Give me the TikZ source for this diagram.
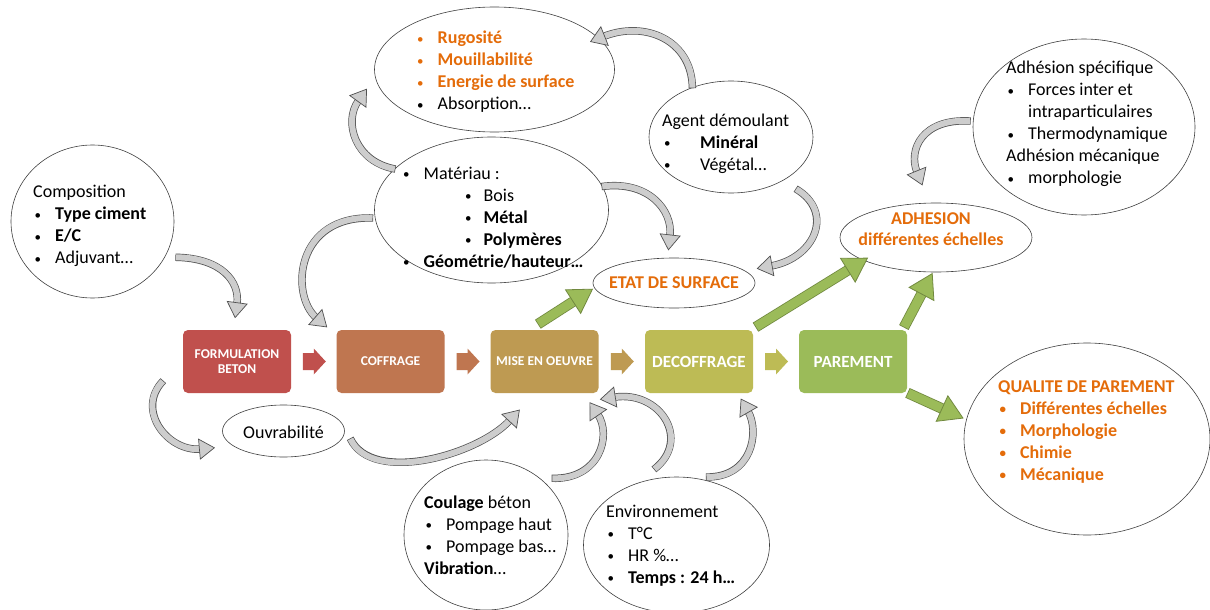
\documentclass[tikz,border=0pt]{standalone}
\usepackage{fontspec}
\setmainfont{Carlito}
\usetikzlibrary{calc,shapes.geometric,decorations.markings}
\definecolor{cA}{HTML}{C0504D}
\definecolor{cB}{HTML}{BF7650}
\definecolor{cC}{HTML}{BE9A52}
\definecolor{cD}{HTML}{BDBB55}
\definecolor{cE}{HTML}{9BBB59}
\definecolor{orng}{HTML}{E46C0A}
\definecolor{gfill}{HTML}{CDCDCD}
\definecolor{gline}{HTML}{505050}
\definecolor{grfill}{HTML}{9BBB59}
\definecolor{grline}{HTML}{71893F}
\newcommand\bdot{\raisebox{0.5pt}{\scalebox{0.72}{\textbullet}}}
\newcommand\bu{\makebox[22pt][l]{\hspace{1.5pt}\bdot}}
\newcommand\sbu{\hspace{62pt}\makebox[20pt][l]{\hspace{1.5pt}\bdot}}
\tikzset{
  box/.style={rounded corners=5pt, minimum width=108pt, minimum height=63pt, inner sep=0pt,
    text=white, font=\bfseries\fontsize{13.5}{15}\selectfont, align=center},
  bigbox/.style={box, font=\bfseries\fontsize{17}{20}\selectfont},
  ell/.style={ellipse, draw=black!75, line width=0.6pt, fill=white, inner sep=0pt, outer sep=0pt},
  txt/.style={inner sep=0pt, font=\fontsize{18}{22}\selectfont, anchor=base west},
  ctxt/.style={inner sep=0pt, font=\bfseries\fontsize{18}{21}\selectfont, anchor=base, text=orng},
  curv/.style={draw=gfill, line width=6pt,
    preaction={draw=gline, line width=7.4pt, shorten <=-0.7pt},
    postaction={decorate, decoration={markings, mark=at position 0.999 with
      {\filldraw[draw=gline, fill=gfill, line width=0.7pt] (-1pt,-10pt) -- (14pt,0pt) -- (-1pt,10pt) -- cycle;}}}},
  garr/.style={draw=grfill, line width=9pt,
    preaction={draw=grline, line width=10.6pt, shorten <=-0.8pt},
    postaction={decorate, decoration={markings, mark=at position 0.999 with
      {\filldraw[draw=grline, fill=grfill, line width=0.8pt] (-1pt,-14pt) -- (22pt,0pt) -- (-1pt,14pt) -- cycle;}}}},
}
\begin{document}
\begin{tikzpicture}[x=1pt,y=-1pt]
\useasboundingbox (0,0) rectangle (1210,610);
\fill[white] (0,0) rectangle (1210,610);

% process boxes
\node[box, fill=cA] (form) at (237,361.5) {FORMULATION\\BETON};
\node[box, fill=cB] (coff) at (390.5,361.5) {COFFRAGE};
\node[box, fill=cC] (mise) at (544.5,361.5) {MISE EN OEUVRE};
\node[bigbox, fill=cD] (deco) at (699,361.5) {DECOFFRAGE};
\node[bigbox, fill=cE] (par) at (853,361.5) {PAREMENT};

% small block arrows between boxes
\coordinate (m1) at ($(form.east)!0.5!(coff.west)$);
\coordinate (m2) at ($(coff.east)!0.5!(mise.west)$);
\coordinate (m3) at ($(mise.east)!0.5!(deco.west)$);
\coordinate (m4) at ($(deco.east)!0.5!(par.west)$);
\fill[cA, shift={(m1)}] (-11,-8.5) -- (0,-8.5) -- (0,-13) -- (12,0) -- (0,13) -- (0,8.5) -- (-11,8.5) -- cycle;
\fill[cB, shift={(m2)}] (-11,-8.5) -- (0,-8.5) -- (0,-13) -- (12,0) -- (0,13) -- (0,8.5) -- (-11,8.5) -- cycle;
\fill[cC, shift={(m3)}] (-11,-8.5) -- (0,-8.5) -- (0,-13) -- (12,0) -- (0,13) -- (0,8.5) -- (-11,8.5) -- cycle;
\fill[cD, shift={(m4)}] (-11,-8.5) -- (0,-8.5) -- (0,-13) -- (12,0) -- (0,13) -- (0,8.5) -- (-11,8.5) -- cycle;

% ellipses
\node[ell, minimum width=163pt, minimum height=153pt] (comp) at (92.5,221.5) {};
\node[ell, minimum width=240pt, minimum height=125pt] (rugo) at (494.5,69.5) {};
\node[ell, minimum width=234pt, minimum height=146pt] (mat) at (491.5,210) {};
\node[ell, minimum width=164pt, minimum height=112pt] (agent) at (731,137) {};
\node[ell, minimum width=162pt, minimum height=50pt] (etat) at (674,283) {};
\node[ell, minimum width=192pt, minimum height=69pt] (adh) at (936,237.5) {};
\node[ell, minimum width=222pt, minimum height=176pt] (adhs) at (1084,127) {};
\node[ell, minimum width=122pt, minimum height=52pt] (ouv) at (283.5,431) {};
\node[ell, minimum width=164pt, minimum height=150pt] (coul) at (486,535) {};
\node[ell, minimum width=186pt, minimum height=136pt] (env) at (676.5,545) {};
\node[ell, minimum width=246pt, minimum height=192pt] (qual) at (1087,439) {};

% texts
\node[txt] (compt) at (33,197.7) {\begin{tabular}[t]{@{}l@{}}Composition\\\bu\textbf{Type ciment}\\\bu\textbf{E/C}\\\bu Adjuvant…\end{tabular}};
\node[txt] (rugot) at (415.5,44) {\begin{tabular}[t]{@{}l@{}}\textcolor{orng}{\bu\textbf{Rugosité}}\\\textcolor{orng}{\bu\textbf{Mouillabilité}}\\\textcolor{orng}{\bu\textbf{Energie de surface}}\\\bu Absorption…\end{tabular}};
\node[txt] (matt) at (401.5,179) {\begin{tabular}[t]{@{}l@{}}\bu Matériau :\\\sbu Bois\\\sbu\textbf{Métal}\\\sbu\textbf{Polymères}\\\bu\textbf{Géométrie/hauteur…}\end{tabular}};
\node[txt] (agentt) at (662,126) {\begin{tabular}[t]{@{}l@{}}Agent démoulant\\\makebox[38pt][l]{\hspace{2pt}\bdot}\textbf{Minéral}\\\makebox[38pt][l]{\hspace{2pt}\bdot}Végétal…\end{tabular}};
\node[ctxt] (etatt) at (674,288) {ETAT DE SURFACE};
\node[ctxt] (adht) at (931,224) {\begin{tabular}[t]{@{}c@{}}ADHESION\\différentes échelles\end{tabular}};
\node[txt] (adhst) at (1006,74) {\begin{tabular}[t]{@{}l@{}}Adhésion spécifique\\\bu Forces inter et\\\hspace{22pt}intraparticulaires\\\bu Thermodynamique\\Adhésion mécanique\\\bu morphologie\end{tabular}};
\node[txt, anchor=base] (ouvt) at (283.5,438) {Ouvrabilité};
\node[txt] (coult) at (424,508) {\begin{tabular}[t]{@{}l@{}}\textbf{Coulage} béton\\\bu Pompage haut\\\bu Pompage bas…\\\textbf{Vibration}…\end{tabular}};
\node[txt] (envt) at (606,517) {\begin{tabular}[t]{@{}l@{}}Environnement\\\bu T°C\\\bu HR \%…\\\bu\textbf{Temps : 24 h…}\end{tabular}};
\node[txt, text=orng] (qualt) at (998,392) {\bfseries\begin{tabular}[t]{@{}l@{}}QUALITE DE PAREMENT\\\bu Différentes échelles\\\bu Morphologie\\\bu Chimie\\\bu Mécanique\end{tabular}};

% gray curved arrows
\draw[curv] ($(comp.-24)+(10,3)$) .. controls (222,258) and (240,282) .. ($(form.north)+(0,-26)$);
\draw[curv] ($(mat.west)+(-2,8)$) .. controls (295,215) and (290,295) .. ($(coff.north west)+(-20,-12)$);
\draw[curv] (mat.157) .. controls (355,162) and (343,122) .. ($(rugo.west)+(-16,31)$);
\draw[curv] (agent.128) .. controls (692,40) and (645,20) .. ($(rugo.east)+(-11,-33)$);
\draw[curv] (mat.12) .. controls (648,180) and (673,210) .. ($(etat.north)+(-4,-22)$);
\draw[curv] ($(agent.-35)+(8,12)$) .. controls (835,212) and (815,258) .. ($(etat.east)+(16,-17)$);
\draw[curv] ($(adhs.west)+(-3,-6)$) .. controls (922,118) and (908,150) .. ($(adh.north)+(-19,-31)$);
\draw[curv] ($(form.south west)+(-20,-12)$) .. controls (135,410) and (168,452) .. ($(ouv.west)+(-22,18)$);
\draw[curv] ($(ouv.east)+(6,8)$) .. controls (372,485) and (478,455) .. ($(mise.south)+(-34.5,27)$);
\draw[curv] ($(coul.40)+(6,-6)$) .. controls (600,480) and (612,435) .. ($(mise.south east)+(-1,21)$);
\draw[curv] ($(env.north)+(-22,-8)$) .. controls (692,440) and (660,390) .. ($(mise.south east)+(15.5,4)$);
\draw[curv] ($(env.north)+(30,0)$) .. controls (752,478) and (760,432) .. ($(deco.south)+(49,18)$);

% green arrows
\draw[garr] ($(mise.north)+(-6,-6)$) -- ($(etat.west)+(-19,18)$);
\draw[garr] ($(deco.north east)+(3,-3)$) -- ($(adh.west)+(9,32)$);
\draw[garr] ($(par.north east)+(-3,-3)$) -- ($(adh.south)+(-14,21)$);
\draw[garr] ($(par.south east)+(1,0)$) -- ($(qual.west)+(-21,-30)$);
\end{tikzpicture}
\end{document}
